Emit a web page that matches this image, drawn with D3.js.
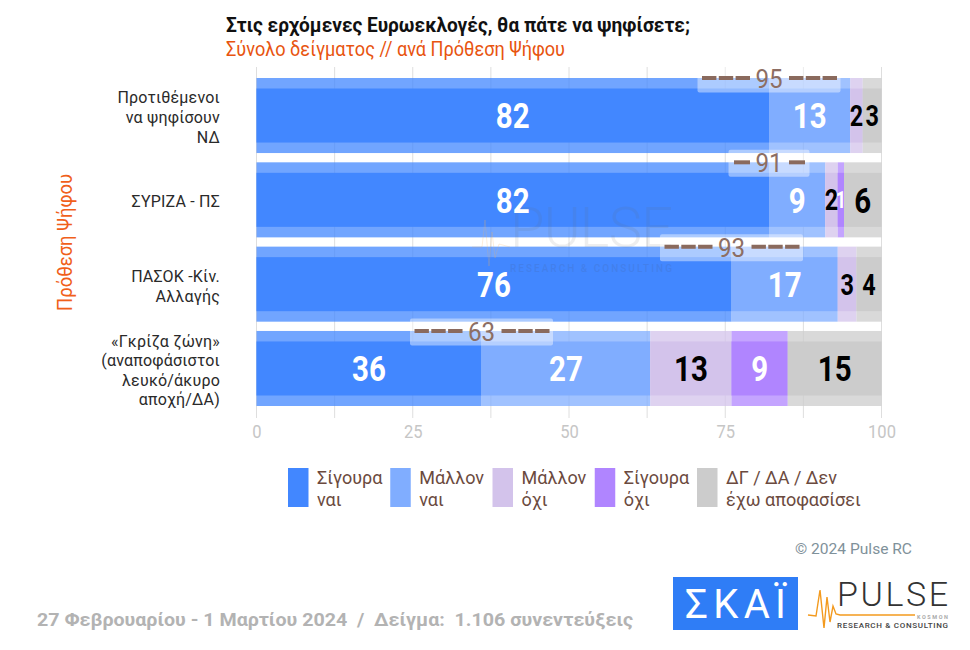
<!DOCTYPE html>
<html><head><meta charset="utf-8">
<script src="https://cdnjs.cloudflare.com/ajax/libs/d3/7.8.5/d3.min.js"></script>
<style>html,body{margin:0;padding:0;background:#fff}svg{display:block}text{font-family:Roboto,"Noto Sans",sans-serif}</style>
</head><body><svg id="c" width="970" height="650"></svg>
<script>
const categories = [["Προτιθέμενοι","να ψηφίσουν","ΝΔ"],["ΣΥΡΙΖΑ - ΠΣ"],["ΠΑΣΟΚ -Κίν.","Αλλαγής"],["«Γκρίζα ζώνη»","(αναποφάσιστοι","λευκό/άκυρο","αποχή/ΔΑ)"]];
const seriesNames = [["Σίγουρα","ναι"],["Μάλλον","ναι"],["Μάλλον","όχι"],["Σίγουρα","όχι"],["ΔΓ / ΔΑ / Δεν","έχω αποφασίσει"]];
const sureYes = [82,82,76,36];
const likelyYes = [13,9,17,27];
const likelyNo = [2,2,3,13];
const sureNo = [0,1,0,9];
const undecided = [3,6,4,15];
const totals = [95,91,93,63];
const totalDashes = [3,1,3,3];
const xTicks = [0,25,50,75,100];
const gridTicks = [0,12.5,25,37.5,50,62.5,75,87.5,100];
const colors = ["#4287ff","#80adff","#d3c3eb","#b085ff","#cccccc"];
const labelColors = ["#fff","#fff","#000","#fff","#000"];

const svg = d3.select("#c");
const x = d3.scaleLinear().domain([0,100]).range([256.5,881.5]);
const y = d3.scaleBand().domain(d3.range(4)).range([78,406]).paddingInner(0.11);
const series = [sureYes,likelyYes,likelyNo,sureNo,undecided];
const stack = d3.stack().keys(d3.range(5)).value((d,k)=>series[k][d]);
const stacked = stack(d3.range(4));

function label(g,t,px,py,o={}){
  const sx=o.sx||1;
  return g.append("text").attr("transform",`translate(${px},${py}) scale(${sx},1)`)
   .attr("text-anchor",o.anchor||"start").attr("font-size",o.size||16).attr("font-weight",o.weight||400)
   .attr("fill",o.fill||"#222").attr("letter-spacing",o.ls||null).text(t);
}

// grid
svg.append("g").selectAll("line").data(gridTicks).join("line")
 .attr("x1",d=>x(d)).attr("x2",d=>x(d)).attr("y1",67).attr("y2",418).attr("stroke","#dedede").attr("stroke-width",1);

// bars
const barsG = svg.append("g");
stacked.forEach((s,k)=>{
  barsG.append("g").selectAll("rect").data(s.filter(d=>d[1]>d[0])).join("rect")
   .attr("x",d=>x(d[0])).attr("width",d=>x(d[1])-x(d[0])).attr("y",d=>y(d.data)).attr("height",y.bandwidth())
   .attr("fill",colors[k]).attr("opacity",0.75);
  barsG.append("g").selectAll("rect").data(s.filter(d=>d[1]>d[0])).join("rect")
   .attr("x",d=>x(d[0])).attr("width",d=>x(d[1])-x(d[0])).attr("y",d=>y(d.data)+10.5).attr("height",y.bandwidth()-21)
   .attr("fill",colors[k]);
});

// watermark
const wm = svg.append("g").attr("opacity",0.1);
wm.append("text").attr("x",510).attr("y",247).attr("font-size",56).attr("font-weight",300).attr("fill","#666")
 .attr("textLength",163).attr("lengthAdjust","spacing").text("PULSE");
wm.append("text").attr("x",510).attr("y",272).attr("font-size",10).attr("font-weight",500).attr("fill","#444")
 .attr("textLength",162).attr("lengthAdjust","spacing").text("RESEARCH & CONSULTING");
svg.append("path").attr("d","M472,247L482,247L485,220L489,266L492,232L495,258L499,244L510,247").attr("fill","none").attr("stroke","#f0b060").attr("stroke-opacity",0.22);

// value labels
const lab = svg.append("g");
stacked.forEach((s,k)=>s.forEach(d=>{
  const v=d[1]-d[0]; if(!v) return;
  const size = v<=1?23:(v<=4?30:36);
  label(lab,v,x((d[0]+d[1])/2),y(d.data)+y.bandwidth()/2+size*0.355,{anchor:"middle",size,weight:700,fill:labelColors[k],sx:v<=4?0.78:0.82});
}));

// totals
const tg = svg.append("g");
totals.forEach((t,i)=>{
  const cx=x(sureYes[i]), cy=y(i);
  const n=totalDashes[i], w=n===3?71.5:40.5;
  tg.append("rect").attr("x",cx-w).attr("width",2*w).attr("y",cy-12.5).attr("height",27).attr("rx",2).attr("fill","#fff").attr("opacity",0.42);
  label(tg,t,cx,cy+10,{anchor:"middle",size:26,fill:"#8d6e63",sx:0.93});
  const L=n===3?48:16;
  [[cx-19-L,cx-19],[cx+20,cx+20+L]].forEach(e=>{
    tg.append("line").attr("x1",e[0]).attr("x2",e[1]).attr("y1",cy).attr("y2",cy).attr("stroke","#8a6a5d").attr("stroke-width",4)
      .attr("stroke-dasharray",n===3?"14.4 2.4":null);
  });
});

// axis
const ax = svg.append("g").attr("transform","translate(0,418)").call(d3.axisBottom(x).tickValues(xTicks).tickSize(0).tickPadding(7));
ax.select(".domain").remove();
ax.selectAll("text").attr("font-size",18).attr("fill","#c6c6c6").attr("font-family","Roboto").attr("transform","scale(0.92,1)");

// categories
const cg = svg.append("g");
categories.forEach((lines,i)=>{
  const cy=y(i)+y.bandwidth()/2+2, lh=i===3?19.3:(i===2?20:19.7);
  lines.forEach((t,j)=>label(cg,t,220,cy+(j-(lines.length-1)/2)*lh+5.5,{anchor:"end",size:16,fill:"#2a2a2a",ls:0.2}));
});

// titles
svg.append("text").attr("x",226).attr("y",32).attr("font-size",21).attr("font-weight",700).attr("fill","#111")
 .attr("textLength",464).attr("lengthAdjust","spacingAndGlyphs").text("Στις ερχόμενες Ευρωεκλογές, θα πάτε να ψηφίσετε;");
svg.append("text").attr("x",226).attr("y",56).attr("font-size",20).attr("fill","#e8540f")
 .attr("textLength",339).attr("lengthAdjust","spacingAndGlyphs").text("Σύνολο δείγματος // ανά Πρόθεση Ψήφου");
svg.append("text").attr("transform","translate(72,311) rotate(-90)").attr("font-size",20).attr("fill","#f0601a")
 .attr("textLength",137).attr("lengthAdjust","spacingAndGlyphs").text("Πρόθεση Ψήφου");

// legend
const legX = d3.scalePoint().domain(d3.range(5)).range([288,697]);
const lg = svg.append("g");
seriesNames.forEach((lines,i)=>{
  lg.append("rect").attr("x",legX(i)).attr("y",468).attr("width",20.5).attr("height",39).attr("fill",colors[i]);
  lines.forEach((t,j)=>label(lg,t,legX(i)+29,484+j*22,{size:18,fill:"#6b4a3e",sx:1}));
});

// copyright + footer
svg.append("text").attr("x",795).attr("y",554).attr("font-size",15).attr("fill","#7f919a")
 .attr("textLength",117).attr("lengthAdjust","spacingAndGlyphs").text("© 2024 Pulse RC");
svg.append("text").attr("x",37).attr("y",626).attr("font-size",18).attr("font-weight",700).attr("fill","#b3b3b3").style("white-space","pre")
 .attr("textLength",596).attr("lengthAdjust","spacingAndGlyphs").text("27 Φεβρουαρίου - 1 Μαρτίου 2024  /  Δείγμα:  1.106 συνεντεύξεις");

// logos
svg.append("rect").attr("x",673).attr("y",577).attr("width",125).attr("height",53).attr("fill","#2f7df6");
svg.append("text").attr("x",685).attr("y",618).attr("font-size",40).attr("font-weight",400).attr("fill","#fff")
 .attr("textLength",101).attr("lengthAdjust","spacing").text("ΣΚΑΪ");
svg.append("text").attr("x",837).attr("y",606).attr("font-size",34).attr("font-weight",300).attr("fill","#333")
 .attr("textLength",111).attr("lengthAdjust","spacing").text("PULSE");
svg.append("path").attr("d","M808,615L816,616L820,590L824,628L827,597L830,622L833,606L836,614L840,615L915,615").attr("fill","none").attr("stroke","#f39a1e").attr("stroke-width",1.4);
svg.append("text").attr("x",917).attr("y",619).attr("font-size",5.5).attr("font-weight",700).attr("fill","#aaa").attr("textLength",31).text("KOSMON");
svg.append("text").attr("x",837).attr("y",628).attr("font-size",8).attr("font-weight",500).attr("fill","#444")
 .attr("textLength",111).attr("lengthAdjust","spacing").text("RESEARCH & CONSULTING");
</script></body></html>
